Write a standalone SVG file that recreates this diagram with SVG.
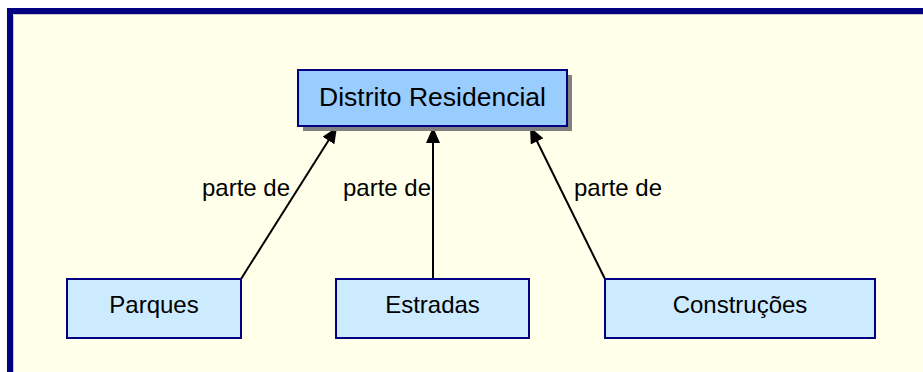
<svg xmlns="http://www.w3.org/2000/svg" width="923" height="372" viewBox="0 0 923 372">
<defs>
<marker id="ah" markerWidth="16" markerHeight="14" refX="16" refY="7" orient="auto" markerUnits="userSpaceOnUse">
<path d="M0,0 L16,7 L0,14 Z" fill="#000"/>
</marker>
<style>
.node{stroke:#000080;stroke-width:2}
.top{fill:#99CCFF}
.bot{fill:#CCEBFF}
.shadow{fill:#808080}
.t{font-family:"Liberation Sans",Arial,sans-serif;fill:#000;text-anchor:middle}
.lbl{font-family:"Liberation Sans",Arial,sans-serif;fill:#000;font-size:24px}
.edge{stroke:#000;stroke-width:2;fill:none;marker-end:url(#ah)}
</style>
</defs>
<rect x="0" y="0" width="923" height="372" fill="#FFFFFF"/>
<rect x="10" y="11" width="930" height="380" fill="#FFFFEA" stroke="#000080" stroke-width="6"/>
<path d="M13.5,372 L13.5,14.5 L923,14.5" stroke="#C8C8C8" stroke-width="1" fill="none"/>
<g id="connectors">
<line class="edge" x1="241" y1="279" x2="337" y2="127"/>
<line class="edge" x1="433" y1="279" x2="433" y2="127"/>
<line class="edge" x1="605" y1="279" x2="530" y2="127"/>
<text class="lbl" x="202" y="196">parte de</text>
<text class="lbl" x="343" y="196">parte de</text>
<text class="lbl" x="574" y="196">parte de</text>
</g>
<g id="distrito">
<rect class="shadow" x="303" y="75" width="269" height="56"/>
<rect class="node top" x="298" y="70" width="269" height="56"/>
<text class="t" x="432.5" y="106" font-size="26.5">Distrito Residencial</text>
</g>
<g id="parques">
<rect class="node bot" x="67" y="279" width="174" height="59"/>
<text class="t" x="154" y="313" font-size="24">Parques</text>
</g>
<g id="estradas">
<rect class="node bot" x="336" y="279" width="193" height="59"/>
<text class="t" x="432.5" y="313" font-size="24">Estradas</text>
</g>
<g id="construcoes">
<rect class="node bot" x="605" y="279" width="270" height="59"/>
<text class="t" x="740" y="313" font-size="24">Construções</text>
</g>
</svg>
